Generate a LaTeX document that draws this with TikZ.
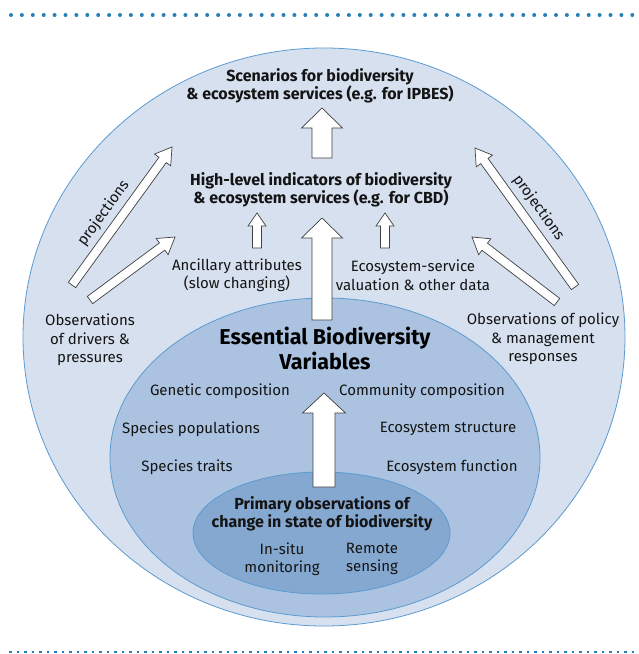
\documentclass[tikz,border=0pt]{standalone}
\usepackage{fontspec}
\setmainfont{Fira Sans}
\usepackage{xcolor}
\usetikzlibrary{shapes,calc,positioning}
\definecolor{outerbg}{RGB}{214,224,239}
\definecolor{ebvbg}{RGB}{171,195,224}
\definecolor{primarybg}{RGB}{133,168,208}
\definecolor{rim}{RGB}{91,155,208}
\definecolor{dotline}{RGB}{41,128,185}
\definecolor{darktext}{RGB}{20,20,20}

% block arrow: tail, tip, half shaft width, half head width, head length
\newcommand{\blockarrow}[5]{%
  \coordinate (ah) at ($(#2)!#5!(#1)$);
  \draw[arrowbox] ($(#1)!#3!90:(#2)$) -- ($(ah)!#3!90:(#2)$) -- ($(ah)!#4!90:(#2)$) -- (#2)
    -- ($(ah)!#4!-90:(#2)$) -- ($(ah)!#3!-90:(#2)$) -- ($(#1)!#3!-90:(#2)$) -- cycle;}

\begin{document}
\begin{tikzpicture}[x=1pt, y=-1pt,
            zone/.style={ellipse, draw=rim, line width=0.8pt, inner sep=0pt},
            txt/.style={align=center, font=\fontsize{15}{18.5}\selectfont, text=darktext, inner sep=1pt},
            heading/.style={txt, font=\fontsize{16}{18.5}\selectfont\bfseries},
            ebvhead/.style={txt, font=\fontsize{21.5}{25}\selectfont\bfseries, text=black},
            arrowbox/.style={draw=black!75, fill=white, line width=0.7pt, line join=miter}
        ]
        \useasboundingbox (0,0) rectangle (638,654);

        % Rules
        \draw[dotline, line width=4pt, line cap=round, dash pattern=on 0pt off 10.9pt] (11,15) -- (638,15);
        \draw[dotline, line width=1.4pt, dash pattern=on 2.6pt off 4.9pt] (9,652) -- (638,652);

        % Zones
        \node[zone, fill=outerbg, minimum width=602pt, minimum height=578pt] (outer) at (324,337) {};
        \node[zone, fill=ebvbg, minimum width=430pt, minimum height=319pt] (ebvzone) at (325,457.5) {};
        \node[zone, fill=primarybg, minimum width=257pt, minimum height=122pt] (primzone) at (321.5,533) {};

        % Arrow ends
        \coordinate (scen-tail) at (322,158);
        \coordinate (scen-tip) at (322,108);
        \coordinate (hli-tail) at (322,320);
        \coordinate (hli-tip) at (322,218);
        \coordinate (anc-tail) at (257,248);
        \coordinate (anc-tip) at (257,213);
        \coordinate (esv-tail) at (385,248);
        \coordinate (esv-tip) at (385,213);
        \coordinate (drvproj-tail) at (72,285);
        \coordinate (drvproj-tip) at (172,147);
        \coordinate (drv-tail) at (90,300);
        \coordinate (drv-tip) at (175,237);
        \coordinate (polproj-tail) at (575,287);
        \coordinate (polproj-tip) at (475,148);
        \coordinate (pol-tail) at (557,302);
        \coordinate (pol-tip) at (472,237);
        \coordinate (ebv-tail) at (324,487);
        \coordinate (ebv-tip) at (324,393);

        % Arrows
        \blockarrow{scen-tail}{scen-tip}{10pt}{20.5pt}{20pt}
        \blockarrow{hli-tail}{hli-tip}{10pt}{20.5pt}{20pt}
        \blockarrow{anc-tail}{anc-tip}{4.5pt}{9pt}{13pt}
        \blockarrow{esv-tail}{esv-tip}{4.5pt}{9pt}{13pt}
        \blockarrow{drvproj-tail}{drvproj-tip}{4.5pt}{10pt}{16pt}
        \blockarrow{drv-tail}{drv-tip}{4.5pt}{10pt}{16pt}
        \blockarrow{polproj-tail}{polproj-tip}{4.5pt}{10pt}{16pt}
        \blockarrow{pol-tail}{pol-tip}{4.5pt}{10pt}{16pt}
        \blockarrow{ebv-tail}{ebv-tip}{11pt}{21.5pt}{20pt}

        \path (drvproj-tail) -- (drvproj-tip) node[txt, pos=0.45, sloped, above=8pt] (drvproj) {projections};
        \path (polproj-tail) -- (polproj-tip) node[txt, pos=0.5, sloped, above=8pt] (polproj) {projections};

        % Labels
        \node[heading] (scen) at (320,86) {Scenarios for biodiversity\\\& ecosystem services (e.g. for IPBES)};
        \node[heading] (hli) at (321,190) {High-level indicators of biodiversity\\\& ecosystem services (e.g. for CBD)};
        \node[txt] (anc) at (237,275) {Ancillary attributes\\(slow changing)};
        \node[txt] (esv) at (413,275) {Ecosystem-service\\valuation \& other data};
        \node[txt] (drv) at (90,340) {Observations\\of drivers \&\\pressures};
        \node[txt] (pol) at (543,339) {Observations of policy\\\& management\\responses};

        % EBV layer
        \node[ebvhead] (ebv) at (325,348) {Essential Biodiversity\\Variables};
        \node[txt] (gen) at (220,391) {Genetic composition};
        \node[txt] (com) at (422,391) {Community composition};
        \node[txt] (pop) at (191,429) {Species populations};
        \node[txt] (str) at (448,429) {Ecosystem structure};
        \node[txt] (trt) at (187,467) {Species traits};
        \node[txt] (fun) at (452,467) {Ecosystem function};

        % Primary observations
        \node[heading] (prim) at (322,514) {Primary observations of\\change in state of biodiversity};
        \node[txt] (insitu) at (282,559) {In-situ\\monitoring};
        \node[txt] (remote) at (372,559) {Remote\\sensing};

        \end{tikzpicture}
\end{document}
